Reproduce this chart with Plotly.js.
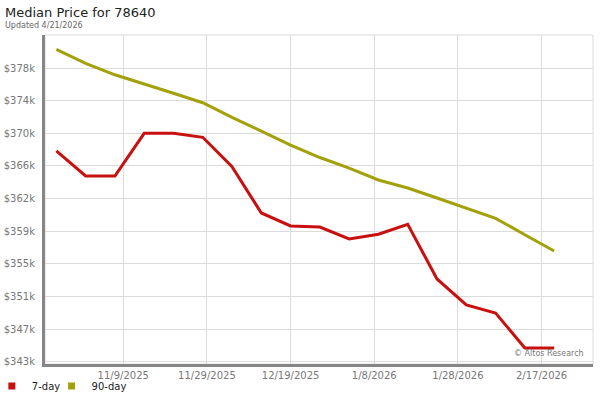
<!DOCTYPE html>
<html>
<head>
<meta charset="utf-8">
<script src="https://cdn.plot.ly/plotly-3.0.1.min.js"></script>
<style>html,body{margin:0;padding:0;background:#fff;}#chart{width:600px;height:400px;}</style>
</head>
<body>
<div id="chart"></div>
<script>
// Weekly dates
const dates = ['2025-10-24','2025-10-31','2025-11-07','2025-11-14','2025-11-21','2025-11-28',
  '2025-12-05','2025-12-12','2025-12-19','2025-12-26','2026-01-02','2026-01-09',
  '2026-01-16','2026-01-23','2026-01-30','2026-02-06','2026-02-13','2026-02-20'];
// 7-day median price ($)
const price7 = [368070,365120,365120,370150,370150,369680,366220,360760,359230,359110,
  357700,358250,359430,352980,349920,348970,344850,344850];
// 90-day median price ($)
const price90 = [380050,378400,377050,375990,374870,373760,372040,370420,368770,367300,
  366060,364650,363710,362530,361350,360130,358200,356280];
// Axis ticks
const xTickVals = ['2025-11-09','2025-11-29','2025-12-19','2026-01-08','2026-01-28','2026-02-17'];
const xTickText = ['11/9/2025','11/29/2025','12/19/2025','1/8/2026','1/28/2026','2/17/2026'];
const yTickVals = [343200,347050,350900,354750,358600,362450,366300,370150,374000,377850,381700];
const yTickText = ['$343k','$347k','$351k','$355k','$359k','$362k','$366k','$370k','$374k','$378k',''];

const font = 'DejaVu Sans, Verdana, sans-serif';
const traces = [
  {x: dates, y: price7, type: 'scatter', mode: 'lines', name: '7-day', showlegend: false,
   line: {color: '#c8100f', width: 3}, hoverinfo: 'skip'},
  {x: dates, y: price90, type: 'scatter', mode: 'lines', name: '90-day', showlegend: false,
   line: {color: '#a3a10a', width: 3}, hoverinfo: 'skip'},
  {x: [null], y: [null], type: 'scatter', mode: 'markers', name: '7-day', legend: 'legend',
   marker: {color: '#c8100f', symbol: 'square', size: 7}},
  {x: [null], y: [null], type: 'scatter', mode: 'markers', name: '90-day', legend: 'legend2',
   marker: {color: '#a3a10a', symbol: 'square', size: 7}}
];
const legendBase = {orientation: 'h', xanchor: 'left', y: -0.067, yanchor: 'middle',
  font: {family: font, size: 10, color: '#222'}, itemwidth: 30, tracegroupgap: 0,
  bgcolor: 'rgba(0,0,0,0)'};
const layout = {
  width: 600, height: 400,
  margin: {l: 45, r: 7, t: 35, b: 36, pad: 0, autoexpand: false},
  paper_bgcolor: '#fff', plot_bgcolor: '#fff',
  font: {family: font, size: 10, color: '#777'},
  showlegend: true,
  legend: Object.assign({}, legendBase, {x: -0.097}),
  legend2: Object.assign({}, legendBase, {x: 0.012}),
  xaxis: {type: 'date', range: ['2025-10-21 07:00', '2026-03-01 07:00'],
    tickvals: xTickVals, ticktext: xTickText, showgrid: true, gridcolor: '#dcdcdc', gridwidth: 1,
    showline: true, linecolor: '#868686', linewidth: 3, zeroline: false, ticks: '',
    tickfont: {family: font, size: 10, color: '#777'}, fixedrange: true},
  yaxis: {range: [342960, 381740], tickvals: yTickVals, ticktext: yTickText,
    showgrid: true, gridcolor: '#dcdcdc', gridwidth: 1, showline: true, linecolor: '#868686',
    linewidth: 3, zeroline: false, ticks: 'outside', ticklen: 5, tickcolor: 'rgba(0,0,0,0)',
    tickfont: {family: font, size: 10, color: '#777'}, fixedrange: true},
  shapes: [{type: 'rect', xref: 'paper', yref: 'paper', x0: 0, x1: 1, y0: 0, y1: 1,
    line: {color: '#dcdcdc', width: 1}, layer: 'below'}],
  annotations: [
    {text: 'Median Price for 78640', xref: 'paper', yref: 'paper', x: -0.076, y: 1.067,
     xanchor: 'left', yanchor: 'middle', showarrow: false,
     font: {family: font, size: 13, color: '#222'}},
    {text: 'Updated 4/21/2026', xref: 'paper', yref: 'paper', x: -0.076, y: 1.030,
     xanchor: 'left', yanchor: 'middle', showarrow: false,
     font: {family: font, size: 8, color: '#666'}},
    {text: '© Altos Research', xref: 'paper', yref: 'paper', x: 0.988, y: 0.032,
     xanchor: 'right', yanchor: 'middle', showarrow: false,
     font: {family: font, size: 8, color: '#777'}}
  ]
};
Plotly.newPlot('chart', traces, layout, {staticPlot: true, displayModeBar: false});
</script>
</body>
</html>
